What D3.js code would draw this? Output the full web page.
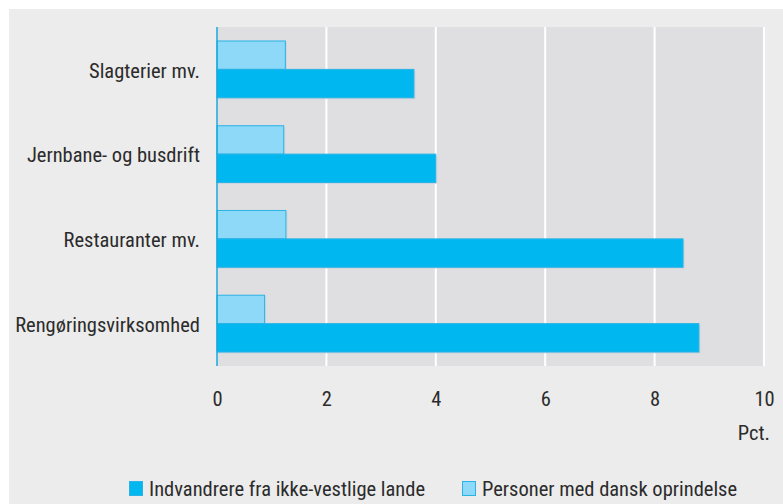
<!DOCTYPE html>
<html>
<head>
<meta charset="utf-8">
<script src="https://cdn.jsdelivr.net/npm/d3@7"></script>
<style>
  body { margin: 0; background: #fff; }
  text { font-family: "Liberation Sans Narrow", "Roboto Condensed", "DejaVu Sans Condensed", sans-serif; fill: #2b2b2b; }
</style>
</head>
<body>
<script>
// Chart data
var categories = ["Slagterier mv.", "Jernbane- og busdrift", "Restauranter mv.", "Rengøringsvirksomhed"];
var seriesNames = ["Personer med dansk oprindelse", "Indvandrere fra ikke-vestlige lande"];
var danskValues = [1.25, 1.22, 1.26, 0.87];
var indvandrerValues = [3.6, 4.0, 8.52, 8.81];
var xTicks = [0, 2, 4, 6, 8, 10];
var legendOrder = ["Indvandrere fra ikke-vestlige lande", "Personer med dansk oprindelse"];

var svgWidth = 783;
var svgHeight = 504;

var margin = { top: 27, right: 19, bottom: 138, left: 217 };
var chartWidth = 764 - margin.left;
var chartHeight = 366 - margin.top;
var fontSize = "20.5px";

var colors = {
  "Indvandrere fra ikke-vestlige lande": "#00b7ef",
  "Personer med dansk oprindelse": "#8ed8f8"
};

var svg = d3.select("body")
  .append("svg")
  .attr("width", svgWidth)
  .attr("height", svgHeight);

// outer panel
svg.append("rect")
  .attr("x", 9).attr("y", 9)
  .attr("width", svgWidth - 9).attr("height", svgHeight - 9)
  .attr("fill", "#ebeceb");

var chartGroup = svg.append("g")
  .attr("transform", `translate(${margin.left}, ${margin.top})`);

chartGroup.append("rect")
  .attr("width", chartWidth)
  .attr("height", chartHeight)
  .attr("fill", "#dfdfe1");

var xScale = d3.scaleLinear().domain([0, 10]).range([0, chartWidth]);
var yScale = d3.scaleBand().domain(categories).range([0, chartHeight]).paddingInner(0.33).paddingOuter(0.165);
var subScale = d3.scaleBand().domain(seriesNames).range([0, yScale.bandwidth()]);

// gridlines
chartGroup.selectAll(".grid")
  .data(xTicks.filter(d => d > 0))
  .enter().append("line")
  .attr("x1", d => xScale(d)).attr("x2", d => xScale(d))
  .attr("y1", 0).attr("y2", chartHeight)
  .attr("stroke", "#fff")
  .attr("stroke-width", 2);

var rows = categories.map(function(c, i) {
  return [
    { cat: c, series: seriesNames[0], value: danskValues[i] },
    { cat: c, series: seriesNames[1], value: indvandrerValues[i] }
  ];
});

var groups = chartGroup.selectAll(".cat")
  .data(rows)
  .enter().append("g")
  .attr("transform", d => `translate(0, ${yScale(d[0].cat)})`);

// faint shadow
groups.selectAll(".shadow")
  .data(d => d)
  .enter().append("rect")
  .attr("x", 0)
  .attr("y", d => subScale(d.series) + 1.5)
  .attr("width", d => xScale(d.value) + 1.5)
  .attr("height", subScale.bandwidth())
  .attr("fill", "#c3cfd8")
  .attr("opacity", 0.6);

groups.selectAll(".bar")
  .data(d => d)
  .enter().append("rect")
  .attr("x", 0)
  .attr("y", d => subScale(d.series))
  .attr("width", d => xScale(d.value))
  .attr("height", subScale.bandwidth())
  .attr("fill", d => colors[d.series])
  .attr("stroke", "#2ab3e6")
  .attr("stroke-width", 1);

// left axis line
chartGroup.append("line")
  .attr("x1", 0).attr("x2", 0)
  .attr("y1", 0).attr("y2", chartHeight)
  .attr("stroke", "#1aa9e0")
  .attr("stroke-width", 1.5);

// category labels
var leftAxis = d3.axisLeft(yScale).tickSize(0).tickPadding(17);
var yAxisG = chartGroup.append("g").call(leftAxis);
yAxisG.select(".domain").remove();
yAxisG.selectAll("text")
  .style("font-size", fontSize)
  .attr("dy", "0.4em")
  .attr("fill", "#2b2b2b");

// bottom axis
var bottomAxis = d3.axisBottom(xScale).tickValues(xTicks).tickSize(0).tickPadding(25);
var xAxisG = chartGroup.append("g")
  .attr("transform", `translate(0, ${chartHeight})`)
  .call(bottomAxis);
xAxisG.select(".domain").remove();
xAxisG.selectAll("text")
  .style("font-size", fontSize)
  .attr("fill", "#2b2b2b");

svg.append("text")
  .attr("x", 770).attr("y", 440)
  .attr("text-anchor", "end")
  .style("font-size", fontSize)
  .text("Pct.");

// legend
var legendX = [129, 462];
var legend = svg.selectAll(".legend")
  .data(legendOrder)
  .enter().append("g")
  .attr("transform", (d, i) => `translate(${legendX[i]}, 481)`);

legend.append("rect")
  .attr("x", 0.5).attr("y", 0.5)
  .attr("width", 13).attr("height", 14)
  .attr("fill", d => colors[d])
  .attr("stroke", "#2ab3e6");

legend.append("text")
  .attr("x", 20).attr("y", 15)
  .style("font-size", fontSize)
  .text(d => d);
</script>
</body>
</html>
